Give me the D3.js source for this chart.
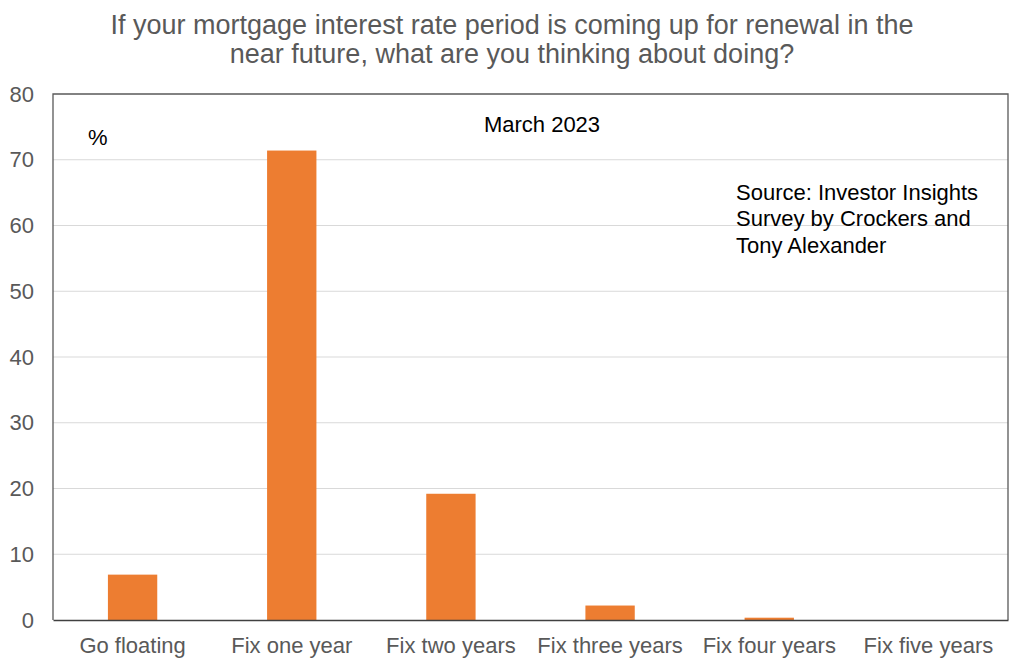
<!DOCTYPE html>
<html>
<head>
<meta charset="utf-8">
<script src="https://cdn.jsdelivr.net/npm/d3@7"></script>
<style>
  body { margin: 0; background: #fff; }
  text { font-family: "Liberation Sans", Arial, sans-serif; }
</style>
</head>
<body>
<script>
// Data
var categories = ["Go floating", "Fix one year", "Fix two years", "Fix three years", "Fix four years", "Fix five years"];
var shares = [6.9, 71.4, 19.2, 2.2, 0.35, 0];
var yTicks = [0, 10, 20, 30, 40, 50, 60, 70, 80];
var titleLines = ["If your mortgage interest rate period is coming up for renewal in the",
                  "near future, what are you thinking about doing?"];
var sourceLines = ["Source: Investor Insights", "Survey by Crockers and", "Tony Alexander"];

var svgWidth = 1024;
var svgHeight = 669;
var margin = { top: 94, right: 16, bottom: 49, left: 53 };
var width = svgWidth - margin.left - margin.right;
var height = svgHeight - margin.top - margin.bottom;

var svg = d3.select("body")
  .append("svg")
  .attr("width", svgWidth)
  .attr("height", svgHeight);

// title
svg.append("g").selectAll("text")
  .data(titleLines)
  .enter()
  .append("text")
  .attr("x", svgWidth / 2)
  .attr("y", (d, i) => 34 + i * 29)
  .attr("text-anchor", "middle")
  .style("font-size", "27px")
  .attr("fill", "#595959")
  .text(d => d);

var chartGroup = svg.append("g")
  .attr("transform", `translate(${margin.left}, ${margin.top})`);

var xScale = d3.scaleBand()
  .domain(categories)
  .range([0, width])
  .paddingInner(0.69)
  .paddingOuter(0.345);

var yScale = d3.scaleLinear()
  .domain([0, 80])
  .range([height, 0]);

// gridlines
chartGroup.append("g").selectAll("line")
  .data(yTicks.filter(t => t > 0 && t < 80))
  .enter()
  .append("line")
  .attr("x1", 0)
  .attr("x2", width)
  .attr("y1", d => yScale(d))
  .attr("y2", d => yScale(d))
  .attr("stroke", "#d9d9d9")
  .attr("stroke-width", 1);

// bars
chartGroup.append("g").selectAll("rect")
  .data(shares)
  .enter()
  .append("rect")
  .attr("x", (d, i) => xScale(categories[i]))
  .attr("y", d => yScale(d))
  .attr("width", xScale.bandwidth())
  .attr("height", d => height - yScale(d))
  .attr("fill", "#ed7d31");

// frame
chartGroup.append("path")
  .attr("d", `M0,${height}V0H${width}V${height}`)
  .attr("fill", "none")
  .attr("stroke", "#595959")
  .attr("stroke-width", 1.3);

// y axis
var leftAxis = d3.axisLeft(yScale).tickValues(yTicks).tickSize(0).tickPadding(19);
var yAxis = chartGroup.append("g").call(leftAxis);
yAxis.select(".domain").remove();
yAxis.selectAll("text")
  .style("font-size", "22px")
  .attr("fill", "#595959");

// x axis
var bottomAxis = d3.axisBottom(xScale).tickSize(0).tickPadding(17);
var xAxis = chartGroup.append("g")
  .attr("transform", `translate(0, ${height})`)
  .call(bottomAxis);
xAxis.select(".domain")
  .attr("stroke", "#404040")
  .attr("stroke-width", 1.5);
xAxis.selectAll("text")
  .style("font-size", "22px")
  .attr("fill", "#595959");

// annotations
chartGroup.append("text")
  .attr("x", 489)
  .attr("y", 38)
  .attr("text-anchor", "middle")
  .style("font-size", "22px")
  .attr("fill", "#000")
  .text("March 2023");

chartGroup.append("text")
  .attr("x", 35)
  .attr("y", 51)
  .style("font-size", "22px")
  .attr("fill", "#000")
  .text("%");

chartGroup.append("g").selectAll("text")
  .data(sourceLines)
  .enter()
  .append("text")
  .attr("x", 683)
  .attr("y", (d, i) => 106 + i * 26.3)
  .style("font-size", "22px")
  .attr("fill", "#000")
  .text(d => d);
</script>
</body>
</html>
